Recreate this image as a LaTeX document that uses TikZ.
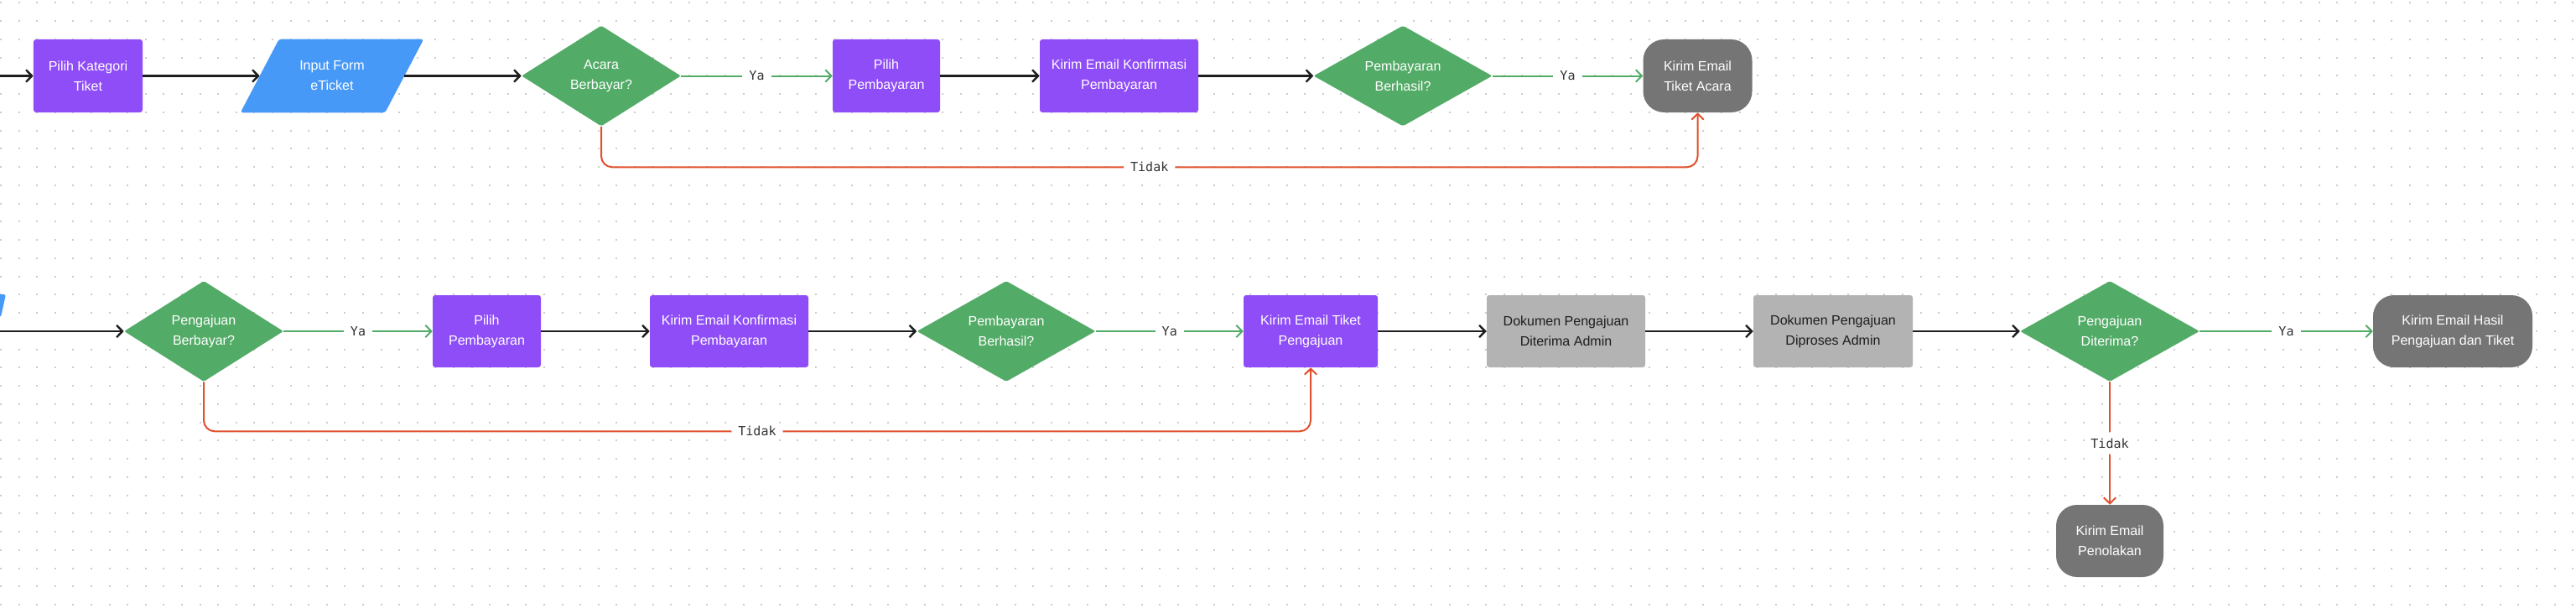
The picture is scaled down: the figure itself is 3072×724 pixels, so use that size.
\documentclass[tikz,border=0pt]{standalone}
\usepackage{fontspec}
\setmainfont{Liberation Sans}
\newfontfamily\monof{DejaVu Sans Mono}
\usetikzlibrary{shapes.geometric,arrows.meta,calc}
\definecolor{cpurple}{HTML}{8F4DF7}
\definecolor{cblue}{HTML}{4799F8}
\definecolor{cgreen}{HTML}{52AB66}
\definecolor{cterm}{HTML}{757575}
\definecolor{clight}{HTML}{B3B3B3}
\definecolor{cred}{HTML}{E0502C}
\definecolor{cink}{HTML}{1E1E1E}
\definecolor{cdot}{HTML}{CCCCCC}
\definecolor{clabel}{HTML}{333333}
\begin{document}
\begin{tikzpicture}[x=0.25mm,y=-0.25mm,
  txt/.style={font=\fontsize{11.4pt}{17.1pt}\selectfont, align=center, inner sep=0pt},
  proc/.style={txt, rectangle, rounded corners=0.75mm, fill=cpurple, text=white, minimum height=21.75mm},
  proctwo/.style={proc, minimum height=21.5mm},
  lgbox/.style={txt, rectangle, rounded corners=0.75mm, fill=clight, text=cink, minimum height=21.5mm},
  term/.style={txt, rectangle, rounded corners=6.25mm, fill=cterm, text=white, minimum height=21.75mm},
  termtwo/.style={term, minimum height=21.5mm},
  dec/.style={txt, diamond, aspect=1.7, rounded corners=0.5mm, fill=cgreen, text=white, minimum height=30mm},
  iobox/.style={txt, rectangle, minimum width=43mm, minimum height=21.75mm},
  tip/.style={-{Straight Barb[length=1.75mm,width=3.6mm]}},
  flow/.style={tip, draw=cink, line width=0.6mm},
  yes/.style={tip, draw=cgreen, line width=0.5mm},
  no/.style={tip, draw=cred, line width=0.5mm, rounded corners=3.25mm},
  lbl/.style={font=\monof\fontsize{10.7pt}{12pt}\selectfont, text=clabel, fill=white, inner xsep=2mm, inner ysep=1.8mm},
  dotrow/.style={draw=cdot, line width=0.5mm, dash pattern=on 0.5mm off 4.9mm}
]
\useasboundingbox (0,0) rectangle (3072,724);
\fill[white] (0,0) rectangle (3072,724);
\begin{scope}
\clip (0,0) rectangle (3072,724);
\foreach \j in {0,...,33} \draw[dotrow] (0,{3.3+21.75*\j}) -- (3072,{3.3+21.75*\j});
% partial blue shape at the left edge
\fill[cblue, rounded corners=0.6mm] (-20,351) -- (7,351) -- (1,378) -- (-20,378) -- cycle;
\end{scope}

% ---- Row 1 ----
\coordinate (in1) at (0,90.5);
\node[proc, minimum width=32.5mm] (kat) at (105,90.5) {Pilih Kategori\\Tiket};
\node[iobox] (form) at (396,90.5) {};
\fill[cblue, rounded corners=0.75mm] ($(form.north west)+(23,0)$) -- ($(form.north east)+(23,0)$) -- ($(form.south east)+(-23,0)$) -- ($(form.south west)+(-23,0)$) -- cycle;
\node[txt, text=white] (formtxt) at (form.center) {Input Form\\eTicket};
\node[dec, minimum width=47.5mm] (d1) at (717,90.5) {Acara\\Berbayar?};
\node[proc, minimum width=32mm] (pb1) at (1057,90.5) {Pilih\\Pembayaran};
\node[proc, minimum width=47.25mm] (ke1) at (1334.5,90.5) {Kirim Email Konfirmasi\\Pembayaran};
\node[dec, minimum width=53.25mm] (d2) at (1673,90.5) {Pembayaran\\Berhasil?};
\node[term, minimum width=32.5mm] (t1) at (2024.5,90.5) {Kirim Email\\Tiket Acara};

\draw[flow] (in1) -- (kat.west);
\draw[flow] (kat.east) -- (form.west);
\draw[flow] (form.east) -- (d1.west);
\draw[yes] (d1.east) -- node[lbl] {Ya} (pb1.west);
\draw[flow] (pb1.east) -- (ke1.west);
\draw[flow] (ke1.east) -- (d2.west);
\draw[yes] (d2.east) -- node[lbl] {Ya} (t1.west);
\draw[no] (d1.south) -- ++(0,48.5) coordinate (c1) -- (c1 -| t1.south) node[lbl, midway] {Tidak} -- (t1.south);

% ---- Row 2 ----
\coordinate (in2) at (0,395);
\node[dec, minimum width=47.5mm] (d3) at (243,395) {Pengajuan\\Berbayar?};
\node[proctwo, minimum width=32.25mm] (pb2) at (580.5,395) {Pilih\\Pembayaran};
\node[proctwo, minimum width=47.25mm] (ke2) at (869.5,395) {Kirim Email Konfirmasi\\Pembayaran};
\node[dec, minimum width=53.25mm] (d4) at (1200,395) {Pembayaran\\Berhasil?};
\node[proctwo, minimum width=40mm] (kt) at (1563,395) {Kirim Email Tiket\\Pengajuan};
\node[lgbox, minimum width=47.25mm] (dd) at (1867.5,395) {Dokumen Pengajuan\\Diterima Admin};
\node[lgbox, minimum width=47.5mm] (dp) at (2186,395) {Dokumen Pengajuan\\Diproses Admin};
\node[dec, minimum width=53.5mm] (d5) at (2516,395) {Pengajuan\\Diterima?};
\node[termtwo, minimum width=47.5mm] (th) at (2925,395) {Kirim Email Hasil\\Pengajuan dan Tiket};
\node[termtwo, minimum width=32mm] (tp) at (2516,645) {Kirim Email\\Penolakan};

\draw[flow] (in2) -- (d3.west);
\draw[yes] (d3.east) -- node[lbl] {Ya} (pb2.west);
\draw[flow] (pb2.east) -- (ke2.west);
\draw[flow] (ke2.east) -- (d4.west);
\draw[yes] (d4.east) -- node[lbl] {Ya} (kt.west);
\draw[flow] (kt.east) -- (dd.west);
\draw[flow] (dd.east) -- (dp.west);
\draw[flow] (dp.east) -- (d5.west);
\draw[yes] (d5.east) -- node[lbl] {Ya} (th.west);
\draw[no] (d3.south) -- ++(0,59) coordinate (c2) -- (c2 -| kt.south) node[lbl, midway] {Tidak} -- (kt.south);
\draw[no] (d5.south) -- node[lbl] {Tidak} (tp.north);
\end{tikzpicture}
\end{document}
